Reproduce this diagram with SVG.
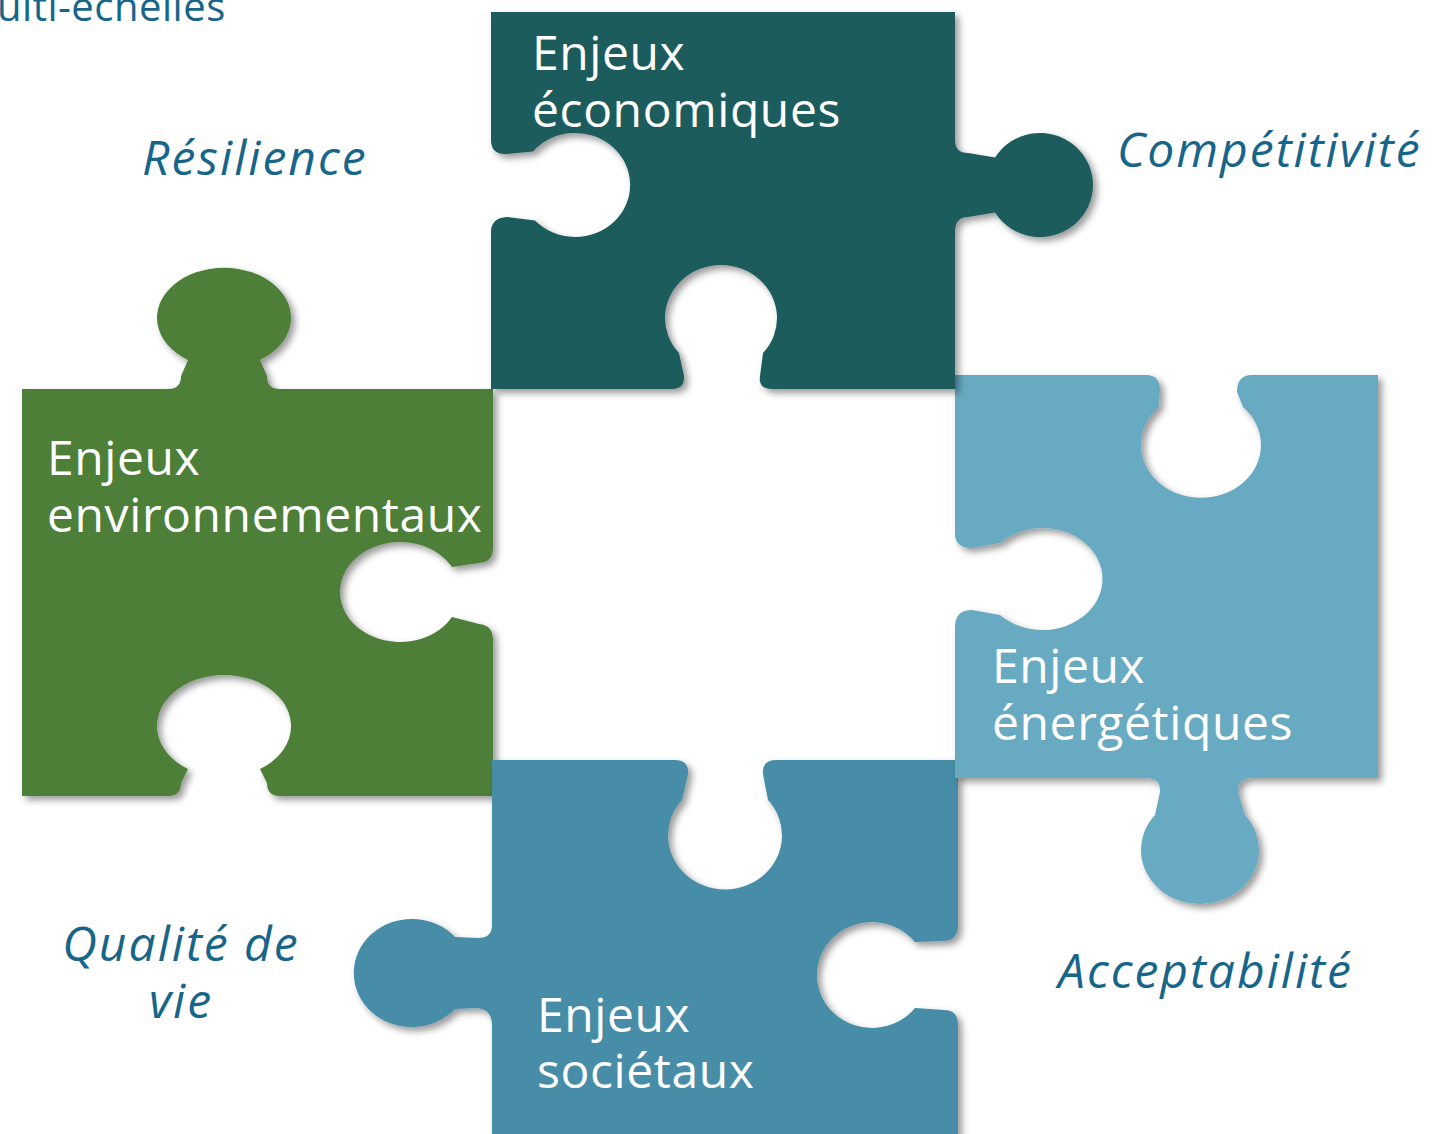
<svg xmlns="http://www.w3.org/2000/svg" width="1434" height="1134" viewBox="0 0 1434 1134">
<defs>
<filter id="sh" x="-10%" y="-10%" width="125%" height="125%">
<feDropShadow dx="4" dy="4" stdDeviation="3.5" flood-color="#000" flood-opacity="0.4"/>
</filter>
</defs>
<style>
.ptxt{font-family:"Open Sans","Noto Sans",sans-serif;font-size:48px;fill:#fff;letter-spacing:0.6px}
.lbl{font-family:"Open Sans","Noto Sans",sans-serif;font-size:48px;font-style:italic;fill:#17668A;letter-spacing:2px}
.top{font-family:"Open Sans","Noto Sans",sans-serif;font-size:40px;fill:#17668A;letter-spacing:0.5px}
</style>
<rect width="1434" height="1134" fill="#fff"/>
<text class="top" x="-3" y="21">ulti-échelles</text>

<g id="env">
<path filter="url(#sh)" fill="#4E7F37" d="M22,389 H168 Q181,389 181,376 L188,360 A67,50 0 1 1 260,360 L267,376 Q267,389 280,389 H493 V548 Q493,562 479,563 L452,567 A60,50 0 1 0 452,617 L479,624 Q493,625 493,640 V796 H280 Q267,796 267,783 L260,769 A67,51 0 1 0 188,769 L181,783 Q181,796 168,796 H22 Z"/>
<text class="ptxt"><tspan x="47" y="475">Enjeux</tspan><tspan x="47" y="532">environnementaux</tspan></text>
</g>

<g id="soc">
<path filter="url(#sh)" fill="#468DA8" d="M492,760 H675 Q689,760 688,774 L682,800 A57,54 0 1 0 768,800 L763,774 Q762,760 776,760 H958 V925 Q958,940 944,941 L915,942 A55,53 0 1 0 915,1008 L944,1010 Q958,1010 958,1025 V1145 H492 V1025 Q492,1010 478,1008 L455,1009 A58,54 0 1 1 455,937 L478,938 Q492,938 492,925 Z"/>
<text class="ptxt"><tspan x="537" y="1032">Enjeux</tspan><tspan x="537" y="1088">sociétaux</tspan></text>
</g>

<g id="ener">
<path filter="url(#sh)" fill="#68AAC2" d="M955,375 H1146 Q1160,375 1160,390 L1159,407 A60,53 0 1 0 1243,407 L1237,392 Q1237,375 1252,375 H1378 V778 H1252 Q1237,778 1238,792 L1245,815 A59,54 0 1 1 1155,815 L1160,792 Q1161,778 1146,778 H955 V625 Q956,610 972,610 L1000,615 A60,51 0 1 0 1000,543 L972,548 Q956,548 955,535 Z"/>
<text class="ptxt"><tspan x="992" y="683">Enjeux</tspan><tspan x="992" y="740">énergétiques</tspan></text>
</g>

<g id="eco">
<path filter="url(#sh)" fill="#1D5C5C" d="M491,12 H955 V140 Q955,153 968,153 L995,157.5 A53,52 0 1 1 995,212.5 L968,217 Q955,217 955,232 V389 H772 Q758,389 760,376 L763,353 A56,53 0 1 0 679,353 L684,376 Q685,389 671,389 H491 V232 Q491,218 507,217 L535,220.5 A55,52 0 1 0 533,151.5 L507,154 Q491,155 491,140 Z"/>
<text class="ptxt"><tspan x="532" y="70">Enjeux</tspan><tspan x="532" y="127">économiques</tspan></text>
</g>

<g id="labels">
<text class="lbl" x="142" y="175">Résilience</text>
<text class="lbl" x="1117" y="167">Compétitivité</text>
<text class="lbl" text-anchor="middle"><tspan x="181" y="961">Qualité de</tspan><tspan x="181" y="1018">vie</tspan></text>
<text class="lbl" x="1058" y="988">Acceptabilité</text>
</g>
<g id="connectors"/>
</svg>
